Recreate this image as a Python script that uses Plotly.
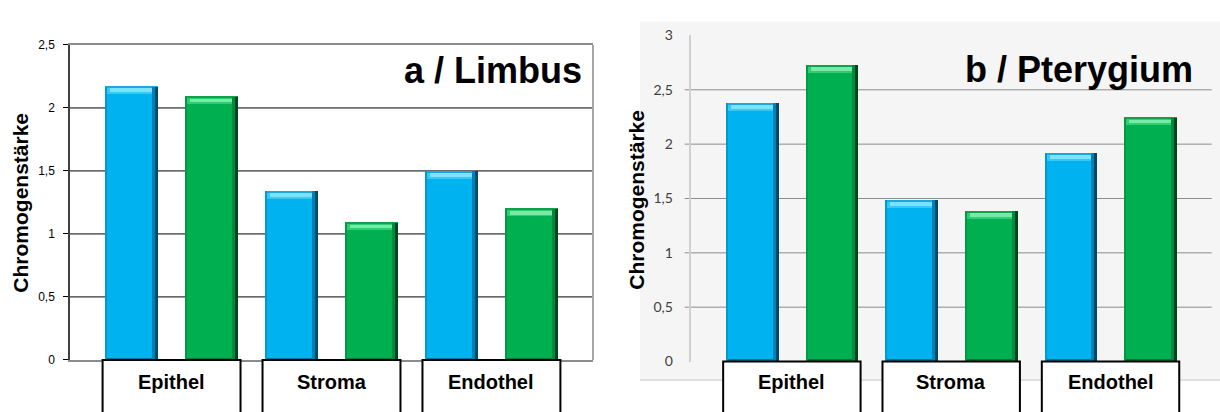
import plotly.graph_objects as go

# ---- data -------------------------------------------------------------
categories = ["Epithel", "Stroma", "Endothel"]

limbus_blue = [2.17, 1.34, 1.50]
limbus_green = [2.09, 1.09, 1.20]

pterygium_blue = [2.37, 1.48, 1.91]
pterygium_green = [2.72, 1.38, 2.24]

limbus_tickvals = [0, 0.5, 1, 1.5, 2, 2.5]
limbus_ticktext = ["0", "0,5", "1", "1,5", "2", "2,5"]
limbus_grid = [0.5, 1, 1.5, 2]

pterygium_tickvals = [0, 0.5, 1, 1.5, 2, 2.5, 3]
pterygium_ticktext = ["0", "0,5", "1", "1,5", "2", "2,5", "3"]
pterygium_grid = [0.5, 1, 1.5, 2, 2.5]

axis_title = "Chromogenstärke"

# ---- styling ----------------------------------------------------------
W, H = 1220, 412
BAR_W = 0.665          # bar width in x units (one unit per bar slot)
X_RANGE = [-0.77, 5.77]
PAD = 0.03             # category box overhang

BLUE = dict(main="#00b2f0", light="#38c8f5", inner="#7fe2fc", top="#1aa8de",
            left="#0099d0", mid="#0082b4", dark="#00486a", bottom="#0076a4")
GREEN = dict(main="#00b050", light="#30cc74", inner="#78eaa8", top="#12a04a",
             left="#009a45", mid="#008a3c", dark="#00441f", bottom="#007834")

ARIAL = "Liberation Sans, Arial, sans-serif"

panels = [
    dict(xa="x", ya="y", xdom=[70 / W, 593 / W], ydom=[1 - 366 / H, 1 - 37.5 / H],
         yrange=[0, 2.5], series=[limbus_blue, limbus_green],
         title="a / Limbus", title_x=584 / W, title_y=1 - 64 / H,
         ytitle_x=21 / W, ytitle_y=1 - 202 / H),
    dict(xa="x2", ya="y2", xdom=[690.7 / W, 1211.7 / W], ydom=[1 - 367.7 / H, 1 - 27.6 / H],
         yrange=[0, 3], series=[pterygium_blue, pterygium_green],
         title="b / Pterygium", title_x=1195 / W, title_y=1 - 63 / H,
         ytitle_x=637 / W, ytitle_y=1 - 199 / H),
]
palettes = [BLUE, GREEN]

fig = go.Figure()
shapes = []
annotations = []


def bevel_bars(xs, vals, pal, xa, ya, ux, uy):
    """Draw one series as bevelled bars: body, top highlight and edge shading."""
    n = len(vals)
    common = dict(xaxis=xa, yaxis=ya, showlegend=False, hoverinfo="skip",
                  marker_line_width=0)
    # body
    fig.add_trace(go.Bar(x=xs, y=vals, width=BAR_W, marker_color=pal["main"], **common))
    # bottom rim
    fig.add_trace(go.Bar(x=xs, y=[2.5 / uy] * n, base=[0] * n, width=BAR_W,
                         marker_color=pal["bottom"], **common))
    # top bevel
    band = 8 / uy
    fig.add_trace(go.Bar(x=xs, y=[band] * n, base=[v - band for v in vals], width=BAR_W,
                         marker_color=pal["light"], **common))
    inner = 4 / uy
    fig.add_trace(go.Bar(x=xs, y=[inner] * n, base=[v - 2 / uy - inner for v in vals],
                         width=BAR_W - 10 / ux, marker_color=pal["inner"], **common))
    fig.add_trace(go.Bar(x=xs, y=[1.2 / uy] * n, base=[v - 1.2 / uy for v in vals],
                         width=BAR_W, marker_color=pal["top"], **common))
    # left edge
    fig.add_trace(go.Bar(x=xs, y=vals, width=2 / ux, offset=-BAR_W / 2,
                         marker_color=pal["left"], **common))
    # right edge shading
    fig.add_trace(go.Bar(x=xs, y=vals, width=6 / ux, offset=BAR_W / 2 - 6 / ux,
                         marker_color=pal["mid"], **common))
    fig.add_trace(go.Bar(x=xs, y=vals, width=3 / ux, offset=BAR_W / 2 - 3 / ux,
                         marker_color=pal["dark"], **common))


for p in panels:
    ux = W * (p["xdom"][1] - p["xdom"][0]) / (X_RANGE[1] - X_RANGE[0])
    uy = H * (p["ydom"][1] - p["ydom"][0]) / (p["yrange"][1] - p["yrange"][0])
    for j, (vals, pal) in enumerate(zip(p["series"], palettes)):
        xs = [2 * i + j for i in range(len(categories))]
        bevel_bars(xs, vals, pal, p["xa"], p["ya"], ux, uy)

    # category boxes below the axis
    for i, cat in enumerate(categories):
        x0 = 2 * i - BAR_W / 2 - PAD
        x1 = 2 * i + 1 + BAR_W / 2 + PAD
        shapes.append(dict(type="rect", xref=p["xa"], yref="paper",
                           x0=x0, x1=x1, y0=-0.3, y1=p["ydom"][0],
                           fillcolor="white", line=dict(color="black", width=2),
                           layer="above"))
        annotations.append(dict(text="<b>%s</b>" % cat, xref=p["xa"], yref="paper",
                                x=(x0 + x1) / 2, y=1 - 389 / H, showarrow=False,
                                xanchor="center", yanchor="middle",
                                font=dict(family=ARIAL, size=20, color="black")))

    annotations.append(dict(text="<b>%s</b>" % p["title"], xref="paper", yref="paper",
                            x=p["title_x"], y=p["title_y"], showarrow=False,
                            xanchor="right", yanchor="middle",
                            font=dict(family=ARIAL, size=36, color="black")))
    annotations.append(dict(text="<b>%s</b>" % axis_title, xref="paper", yref="paper",
                            x=p["ytitle_x"], y=p["ytitle_y"], showarrow=False,
                            textangle=-90, xanchor="center", yanchor="middle",
                            font=dict(family=ARIAL, size=21, color="black")))

# left panel gridlines and right border
for g in limbus_grid:
    shapes.append(dict(type="line", xref="x domain", yref="y", x0=0, x1=1, y0=g, y1=g,
                       line=dict(color="black", width=1), layer="below"))
shapes.append(dict(type="line", xref="x domain", yref="y domain", x0=1, x1=1, y0=0, y1=1,
                   line=dict(color="#a6a6a6", width=2), layer="above"))

# right panel background, bottom rule and gridlines
shapes.append(dict(type="rect", xref="paper", yref="paper", x0=640 / W, x1=1,
                   y0=1 - 387 / H, y1=1 - 13 / H, fillcolor="#f5f5f5",
                   line=dict(width=0), layer="below"))
shapes.append(dict(type="line", xref="paper", yref="paper", x0=640 / W, x1=1,
                   y0=1 - 387 / H, y1=1 - 387 / H,
                   line=dict(color="#c4c4c4", width=1), layer="below"))
for g in pterygium_grid:
    shapes.append(dict(type="line", xref="x2 domain", yref="y2", x0=-6 / 521, x1=1,
                       y0=g, y1=g, line=dict(color="#8c8c8c", width=1), layer="below"))

fig.update_layout(
    width=W, height=H, autosize=False,
    margin=dict(l=0, r=0, t=0, b=0),
    paper_bgcolor="white", plot_bgcolor="rgba(0,0,0,0)",
    barmode="overlay", bargap=0,
    showlegend=False,
    shapes=shapes, annotations=annotations,
    xaxis=dict(domain=panels[0]["xdom"], anchor="y", range=X_RANGE,
               showticklabels=False, ticks="", showgrid=False, zeroline=False,
               showline=True, linecolor="#8c8c8c", linewidth=2, mirror=True),
    yaxis=dict(domain=panels[0]["ydom"], anchor="x", range=panels[0]["yrange"],
               tickvals=limbus_tickvals, ticktext=limbus_ticktext,
               ticks="outside", ticklen=5, tickcolor="black", tickwidth=1,
               showline=True, linecolor="#404040", linewidth=1.5,
               showgrid=False, zeroline=False, ticklabelstandoff=6,
               tickfont=dict(family=ARIAL, size=12, color="black")),
    xaxis2=dict(domain=panels[1]["xdom"], anchor="y2", range=X_RANGE,
                showticklabels=False, ticks="", showgrid=False, zeroline=False,
                showline=False),
    yaxis2=dict(domain=panels[1]["ydom"], anchor="x2", range=panels[1]["yrange"],
                tickvals=pterygium_tickvals, ticktext=pterygium_ticktext,
                ticks="", showline=True, linecolor="#d0d0d0", linewidth=2,
                showgrid=False, zeroline=False, ticklabelstandoff=13,
                tickfont=dict(family="Lato, sans-serif", size=14, color="#404040")),
)

fig.write_html("out.html", config={"displayModeBar": False})
